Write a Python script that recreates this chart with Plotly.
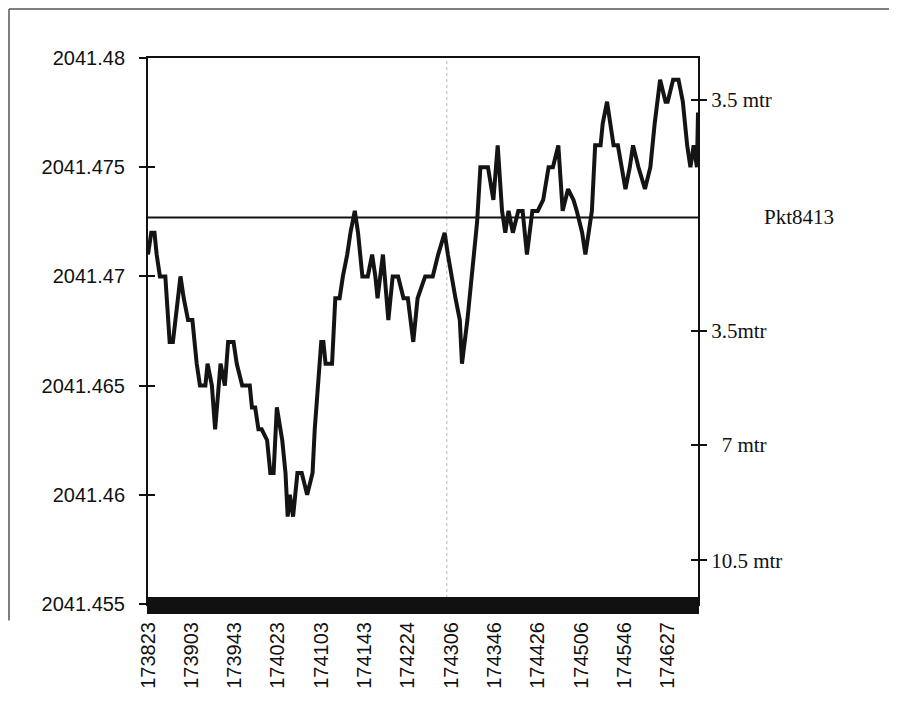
import plotly.graph_objects as go

# elapsed seconds from 17:38:23 and measured height
t_sec = [0, 3, 6, 8, 11, 16, 20, 23, 30, 33, 37, 41, 45, 48, 53, 55, 59, 62, 67, 71,
         74, 79, 82, 87, 91, 94, 96, 99, 102, 105, 110, 113, 116, 119, 124, 127, 129, 131, 134, 138,
         142, 147, 152, 154, 157, 160, 162, 164, 170, 173, 177, 180, 184, 187, 191, 194, 198, 203, 207, 210,
         212, 217, 222, 226, 231, 236, 240, 245, 249, 256, 263, 268, 274, 277, 284, 288, 290, 295, 299, 304,
         307, 311, 314, 319, 323, 327, 330, 333, 337, 342, 346, 350, 355, 360, 365, 370, 374, 379, 382, 383,
         388, 393, 396, 401, 404, 407, 410, 413, 418, 420, 424, 427, 430, 434, 441, 445, 448, 453, 459, 464,
         468, 473, 478, 480, 485, 490, 494, 498, 501, 504, 507, 508]
height = [2041.471, 2041.472, 2041.472, 2041.471, 2041.470, 2041.470, 2041.467, 2041.467, 2041.470, 2041.469,
          2041.468, 2041.468, 2041.466, 2041.465, 2041.465, 2041.466, 2041.465, 2041.463, 2041.466, 2041.465,
          2041.467, 2041.467, 2041.466, 2041.465, 2041.465, 2041.465, 2041.464, 2041.464, 2041.463, 2041.463,
          2041.4625, 2041.461, 2041.461, 2041.464, 2041.4625, 2041.461, 2041.459, 2041.460, 2041.459, 2041.461,
          2041.461, 2041.460, 2041.461, 2041.463, 2041.465, 2041.467, 2041.467, 2041.466, 2041.466, 2041.469,
          2041.469, 2041.470, 2041.471, 2041.472, 2041.473, 2041.472, 2041.470, 2041.470, 2041.471, 2041.470,
          2041.469, 2041.471, 2041.468, 2041.470, 2041.470, 2041.469, 2041.469, 2041.467, 2041.469, 2041.470,
          2041.470, 2041.471, 2041.472, 2041.471, 2041.469, 2041.468, 2041.466, 2041.468, 2041.470, 2041.4725,
          2041.475, 2041.475, 2041.475, 2041.4735, 2041.476, 2041.473, 2041.472, 2041.473, 2041.472, 2041.473,
          2041.473, 2041.471, 2041.473, 2041.473, 2041.4735, 2041.475, 2041.475, 2041.476, 2041.474, 2041.473,
          2041.474, 2041.4735, 2041.473, 2041.472, 2041.471, 2041.472, 2041.473, 2041.476, 2041.476, 2041.477,
          2041.478, 2041.477, 2041.476, 2041.476, 2041.474, 2041.475, 2041.476, 2041.475, 2041.474, 2041.475,
          2041.477, 2041.479, 2041.478, 2041.478, 2041.479, 2041.479, 2041.478, 2041.476, 2041.475, 2041.476,
          2041.475, 2041.4775]

x_tick_vals = [0, 40, 80, 120, 160, 200, 240, 280, 320, 360, 400, 440, 480]
x_tick_text = ["173823", "173903", "173943", "174023", "174103", "174143", "174224",
               "174306", "174346", "174426", "174506", "174546", "174627"]
y_tick_vals = [2041.455, 2041.46, 2041.465, 2041.47, 2041.475, 2041.48]
y_tick_text = ["2041.455", "2041.46", "2041.465", "2041.47", "2041.475", "2041.48"]

pkt_level = 2041.4727
pkt_label = "Pkt8413"
right_tick_vals = [2041.4781, 2041.4675, 2041.4623, 2041.4570]
right_tick_text = ["3.5 mtr", "3.5mtr", "\u00a0\u00a07 mtr", "10.5 mtr"]
dotted_grid_t = [276]

X_RANGE = [0, 508]
Y_RANGE = [2041.455, 2041.48]

fig = go.Figure()
for t in dotted_grid_t:
    fig.add_trace(go.Scatter(x=[t, t], y=Y_RANGE, mode="lines",
                             line=dict(color="#b8b8b8", width=1, dash="dot"),
                             showlegend=False, hoverinfo="skip"))
fig.add_trace(go.Scatter(x=t_sec, y=height, mode="lines",
                         line=dict(color="#141414", width=4),
                         showlegend=False, hoverinfo="skip"))
# helper invisible traces so the overlay axes are drawn
for xa, ya in [("x", "y2"), ("x2", "y"), ("x", "y3"), ("x", "y4")]:
    fig.add_trace(go.Scatter(x=[X_RANGE[0]], y=[Y_RANGE[0]], xaxis=xa, yaxis=ya,
                             mode="lines", showlegend=False, hoverinfo="skip"))

fig.add_hline(y=pkt_level, line=dict(color="#141414", width=2))
fig.add_annotation(x=1.184, xref="paper", y=pkt_level, yref="y", text=pkt_label,
                   showarrow=False, xanchor="center", yanchor="middle",
                   font=dict(family="Liberation Serif", size=21, color="#111"))

sans = dict(family="Liberation Sans", size=20, color="#111")
serif = dict(family="Liberation Serif", size=21, color="#111")

fig.update_layout(
    width=889, height=700,
    margin=dict(l=140, r=199, t=50, b=104),
    paper_bgcolor="white", plot_bgcolor="white",
    xaxis=dict(range=X_RANGE, showgrid=False, zeroline=False,
               showline=True, linecolor="#111", linewidth=2, mirror=True,
               tickmode="array", tickvals=x_tick_vals, ticktext=x_tick_text,
               ticks="outside", ticklen=8, tickwidth=1.6, tickcolor="#111",
               tickangle=-90, tickfont=sans,
               minor=dict(tickmode="linear", tick0=0, dtick=1, ticks="outside",
                          ticklen=8, tickwidth=1.6, tickcolor="#111", showgrid=False)),
    xaxis2=dict(range=X_RANGE, overlaying="x", anchor="y", side="bottom",
                showgrid=False, zeroline=False, showline=False, showticklabels=False,
                tickmode="array", tickvals=x_tick_vals, ticks="inside", ticklen=7,
                tickwidth=1.6, tickcolor="#111",
                minor=dict(tickmode="linear", tick0=0, dtick=1, ticks="inside",
                           ticklen=7, tickwidth=1.6, tickcolor="#111", showgrid=False)),
    yaxis=dict(range=Y_RANGE, showgrid=False, zeroline=False,
               showline=True, linecolor="#111", linewidth=2,
               tickmode="array", tickvals=y_tick_vals, ticktext=y_tick_text,
               ticks="outside", ticklen=7, tickwidth=2, tickcolor="#111",
               tickfont=sans, ticklabelstandoff=10),
    yaxis3=dict(range=Y_RANGE, overlaying="y", side="left", anchor="x",
                showgrid=False, zeroline=False, showline=False, showticklabels=False,
                tickmode="array", tickvals=y_tick_vals, ticks="inside", ticklen=7,
                tickwidth=2, tickcolor="#111"),
    yaxis2=dict(range=Y_RANGE, overlaying="y", side="right", anchor="x",
                showgrid=False, zeroline=False,
                showline=True, linecolor="#111", linewidth=2,
                tickmode="array", tickvals=right_tick_vals, ticktext=right_tick_text,
                ticks="outside", ticklen=7, tickwidth=2, tickcolor="#111",
                tickfont=serif),
    yaxis4=dict(range=Y_RANGE, overlaying="y", side="right", anchor="x",
                showgrid=False, zeroline=False, showline=False, showticklabels=False,
                tickmode="array", tickvals=right_tick_vals, ticks="inside", ticklen=7,
                tickwidth=2, tickcolor="#111"),
)

# outer scan frame (thin gray lines along the top and left page edge)
frame = dict(type="line", xref="paper", yref="paper", line=dict(color="#555", width=1.5))
fig.add_shape(x0=-0.2527, x1=1.36, y0=1.0897, y1=1.0897, **frame)
fig.add_shape(x0=-0.2527, x1=-0.2527, y0=1.0897, y1=-0.03, **frame)
fig.add_shape(x0=1.351, x1=1.351, y0=0.667, y1=0.593, **frame)

fig.write_html("out.html")
